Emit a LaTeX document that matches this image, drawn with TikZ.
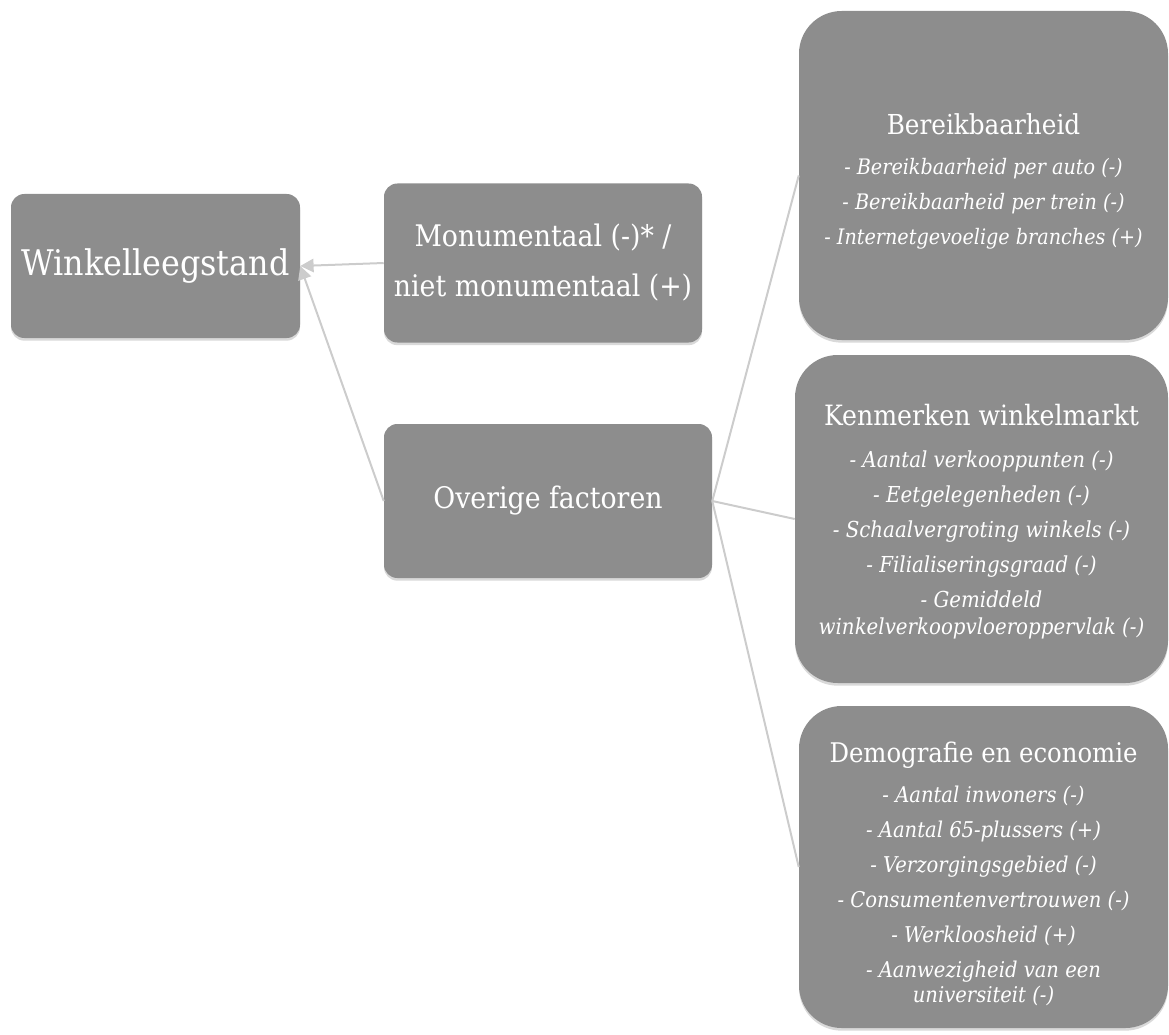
\documentclass[tikz,border=0pt]{standalone}
\usepackage{fontspec}
\setmainfont{DejaVu Serif Condensed}
\usetikzlibrary{arrows.meta,shadows,positioning}
\definecolor{boxgray}{RGB}{141,141,141}
\definecolor{linkgray}{RGB}{204,204,204}
\tikzstyle{every node}+=[inner sep=1mm,text=white,align=center]
\tikzstyle{factor}=[rectangle,fill=boxgray,rounded corners=10pt,
	drop shadow={opacity=0.3,shadow xshift=0pt,shadow yshift=-2pt}]
\tikzstyle{group}=[factor,rounded corners=32pt]
\tikzstyle{link}=[draw=linkgray,line width=1.5pt]
\newcommand{\drawlinks}[2][\empty]{
	\foreach \a/\b in {#2}{
		\draw[link,#1] (\a) -- (\b);
	}
}
\newcommand{\fs}[2]{\fontsize{#1}{#2}\selectfont}
% strut on the title line pushes the text of a box down a little
\newcommand{\up}[1]{\rule{0pt}{#1}}

\begin{document}
\begin{tikzpicture}[x=0.75pt,y=-0.75pt]
	\useasboundingbox (0,0) rectangle (1169,1034);
	\node[factor,minimum width=216.75pt,minimum height=108pt,font=\fs{26.5}{30}] (winkel) at (155.5,266) {Winkelleegstand};
	\node[factor,minimum width=238.5pt,minimum height=119.25pt,font=\fs{22.3}{37.5}] (monument) at (543,263) {Monumentaal (-)* /\\niet monumentaal (+)};
	\node[factor,minimum width=246pt,minimum height=115.5pt,font=\fs{22.3}{27}] (overig) at (548,501) {Overige factoren};
	\node[group,minimum width=276.75pt,minimum height=246.75pt,font=\fs{16}{26.25}] (bereik) at (983.5,175.5)
		{{\fs{20.6}{30}\up{24.7pt}Bereikbaarheid}\\[3.75pt]
		\itshape - Bereikbaarheid per auto (-)\\
		\itshape - Bereikbaarheid per trein (-)\\
		\itshape - Internetgevoelige branches (+)};
	\node[group,minimum width=279.75pt,minimum height=246pt,font=\fs{16.5}{20.25}] (kenmerk) at (981.5,519)
		{{\fs{21}{26}\up{20.5pt}Kenmerken winkelmarkt}\\[11.25pt]
		\itshape - Aantal verkooppunten (-)\\[6pt]
		\itshape - Eetgelegenheden (-)\\[6pt]
		\itshape - Schaalvergroting winkels (-)\\[6pt]
		\itshape - Filialiseringsgraad (-)\\[6pt]
		\itshape - Gemiddeld\\
		\itshape winkelverkoopvloeroppervlak (-)};
	\node[group,minimum width=276.75pt,minimum height=241.5pt,font=\fs{16.3}{18.75}] (demo) at (983.5,867)
		{{\fs{20.3}{25}\up{26pt}Demografie en economie}\\[11.25pt]
		\itshape - Aantal inwoners (-)\\[7.5pt]
		\itshape - Aantal 65-plussers (+)\\[7.5pt]
		\itshape - Verzorgingsgebied (-)\\[7.5pt]
		\itshape - Consumentenvertrouwen (-)\\[7.5pt]
		\itshape - Werkloosheid (+)\\[7.5pt]
		\itshape - Aanwezigheid van een\\
		\itshape universiteit (-)};
	\drawlinks[-{Triangle[length=10pt,width=10pt]}]{monument.west/winkel.east,overig.west/winkel.east}
	\drawlinks{overig.east/bereik.west,overig.east/kenmerk.west,overig.east/demo.west}
\end{tikzpicture}
\end{document}
